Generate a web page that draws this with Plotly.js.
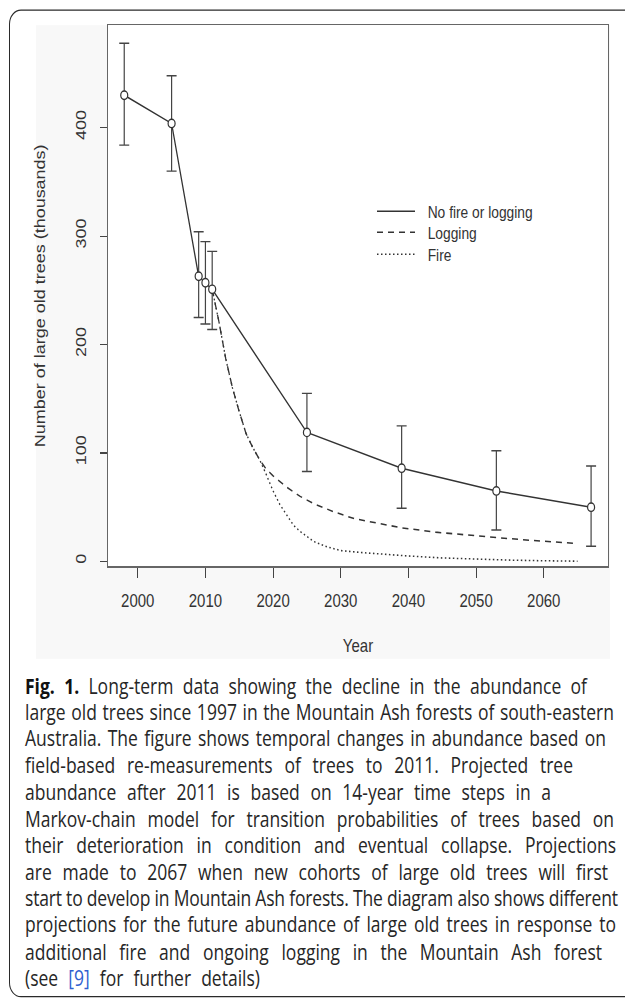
<!DOCTYPE html>
<html>
<head>
<meta charset="utf-8">
<script src="https://cdn.plot.ly/plotly-3.0.1.min.js"></script>
<style>
  html, body { margin:0; padding:0; background:#fff; overflow:hidden; width:625px; height:998px; }
  #wrap { position:absolute; left:0; top:0; width:625px; height:832px; transform:scaleY(1.2); transform-origin:0 0; overflow:hidden; }
  #frame { position:absolute; left:9px; top:8.3px; width:700px; height:822.5px; border:1.8px solid #2a2a2a; border-radius:12px; box-sizing:border-box; }
  #figbg { position:absolute; left:36px; top:21px; width:574px; height:528px; background:#f8f8f8; }
  #chart { position:absolute; left:0; top:0; width:625px; height:560px; }
  .cap { position:absolute; left:25px; white-space:nowrap; font-family:"Open Sans", "Noto Sans", sans-serif; font-size:17.5px; line-height:20px; color:#262626; }
  .cap b { font-weight:700; color:#111; }
  .cap .ref { color:#2f5fd0; }
</style>
</head>
<body>
<div id="wrap">
  <div id="frame"></div>
  <div id="figbg"></div>
  <div id="chart"></div>
</div>
<script>
// ---- observed data (thousands of large old trees) ----
const obsYears  = [1998, 2005, 2009, 2010, 2011, 2025, 2039, 2053, 2067];
const obsValues = [430, 404, 263, 257, 251, 119, 86, 65, 50];
const obsUpper  = [478, 448, 304, 295, 286, 155, 125, 102, 88];
const obsLower  = [384, 360, 225, 219, 214, 83, 49, 29, 14];

// ---- projection: logging ----
const logYears  = [2011, 2012, 2013, 2014, 2015, 2016, 2017, 2018, 2019, 2020, 2022, 2024, 2026, 2029, 2032, 2035, 2039, 2044, 2049, 2053, 2058, 2065];
const logValues = [251, 221, 187, 160, 138, 118, 105, 94, 85, 79, 68.5, 60, 53.3, 45.7, 39.4, 36, 31, 27, 24, 22, 19.5, 16.5];

// ---- projection: fire ----
const fireYears  = [2011, 2012, 2013, 2014, 2015, 2016, 2017, 2018, 2019, 2020, 2021, 2022, 2023, 2024, 2025, 2026, 2028, 2030, 2033, 2036, 2040, 2045, 2050, 2055, 2060, 2065];
const fireValues = [251, 221, 187, 160, 138, 118, 105, 94, 80, 65, 52.5, 42.7, 33.5, 27.6, 22.5, 18.4, 13.4, 10, 8.2, 6.7, 5, 3.2, 2, 1.2, 0.6, 0.2];

// ---- axis ticks and labels ----
const xTicks = [2000, 2010, 2020, 2030, 2040, 2050, 2060];
const yTicks = [0, 100, 200, 300, 400];
const seriesNames = ["No fire or logging", "Logging", "Fire"];

const captionLines = [
  '<b>Fig. 1.</b> Long-term data showing the decline in the abundance of',
  'large old trees since 1997 in the Mountain Ash forests of south-eastern',
  'Australia. The figure shows temporal changes in abundance based on',
  'field-based re-measurements of trees to 2011. Projected tree',
  'abundance after 2011 is based on 14-year time steps in a',
  'Markov-chain model for transition probabilities of trees based on',
  'their deterioration in condition and eventual collapse. Projections',
  'are made to 2067 when new cohorts of large old trees will first',
  'start to develop in Mountain Ash forests. The diagram also shows different',
  'projections for the future abundance of large old trees in response to',
  'additional fire and ongoing logging in the Mountain Ash forest',
  '(see <span class="ref">[9]</span> for further details)'
];
const captionRight = [587, 614, 606, 573, 551, 614, 616, 608, 618, 616, 602, 260];

const upErr = obsUpper.map((u, i) => u - obsValues[i]);
const loErr = obsValues.map((v, i) => v - obsLower[i]);

const ink = '#333';
const pad = '\u00a0\u00a0';
const traces = [
  { x: obsYears, y: obsValues, mode: 'lines', name: pad + seriesNames[0], legend: 'legend',
    line: { color: ink, width: 1.3 } },
  { x: logYears, y: logValues, mode: 'lines', name: pad + seriesNames[1], legend: 'legend2',
    line: { color: ink, width: 1.3, dash: '6px,5px' } },
  { x: fireYears, y: fireValues, mode: 'lines', name: pad + seriesNames[2], legend: 'legend3',
    line: { color: ink, width: 1.3, dash: '1.5px,2.5px' } },
  { x: obsYears, y: obsValues, mode: 'markers', showlegend: false,
    marker: { symbol: 'circle', size: 7, color: '#ffffff', line: { color: ink, width: 1.2 } },
    error_y: { type: 'data', symmetric: false, array: upErr, arrayminus: loErr,
               color: '#444', thickness: 1.2, width: 5 } }
];

const tickFont = { family: 'Liberation Sans, Arial, sans-serif', size: 15, color: '#333' };
const legFont = { family: 'Liberation Sans, Arial, sans-serif', size: 13.8, color: '#333' };
function leg(y) {
  return { x: 0.528, y: y, xanchor: 'left', yanchor: 'top', bgcolor: 'rgba(0,0,0,0)',
           borderwidth: 0, itemwidth: 38, font: legFont };
}
const layout = {
  width: 625, height: 560,
  margin: { l: 108, r: 17, t: 21, b: 88 },
  paper_bgcolor: 'rgba(0,0,0,0)',
  plot_bgcolor: '#ffffff',
  showlegend: true,
  legend: leg(0.6905),
  legend2: leg(0.6517),
  legend3: leg(0.6110),
  xaxis: {
    range: [1995.6, 2069.5], tickmode: 'array', tickvals: xTicks, ticktext: xTicks.map(String),
    ticks: 'outside', ticklen: 9, tickwidth: 1, tickcolor: '#444',
    showline: true, mirror: true, linecolor: '#666', linewidth: 1,
    showgrid: false, zeroline: false, tickfont: tickFont, ticklabelstandoff: 6,
    title: { text: 'Year', font: tickFont, standoff: 24 }
  },
  yaxis: {
    range: [-4.6, 494.6], tickmode: 'array', tickvals: yTicks, ticktext: yTicks.map(String),
    ticks: 'outside', ticklen: 7, tickwidth: 1, tickcolor: '#444', tickangle: -90,
    showline: true, mirror: true, linecolor: '#666', linewidth: 1,
    showgrid: false, zeroline: false, tickfont: tickFont, ticklabelstandoff: 8,
    title: { text: 'Number of large old trees (thousands)', font: tickFont, standoff: 22 }
  }
};

Plotly.newPlot('chart', traces, layout, { staticPlot: true, displayModeBar: false });

function buildCaption() {
  const wrap = document.getElementById('wrap');
  captionLines.forEach((html, i) => {
    const d = document.createElement('div');
    d.className = 'cap';
    const centerU = (685 + 26.6 * i) / 1.2;
    d.style.top = (centerU - 10) + 'px';
    const s = document.createElement('span');
    s.innerHTML = html;
    d.appendChild(s);
    wrap.appendChild(d);
    const target = captionRight[i];
    if (target !== null) {
      const w = s.getBoundingClientRect().width;
      const avail = target - 25;
      const diff = avail - w;
      const text = s.textContent;
      const spaces = (text.match(/ /g) || []).length;
      if (diff >= 0) {
        s.style.wordSpacing = (diff / spaces) + 'px';
      } else {
        s.style.letterSpacing = (diff / (text.length - 1)) + 'px';
      }
    }
  });
}
if (document.fonts && document.fonts.ready) {
  document.fonts.ready.then(buildCaption);
} else {
  buildCaption();
}
</script>
</body>
</html>
